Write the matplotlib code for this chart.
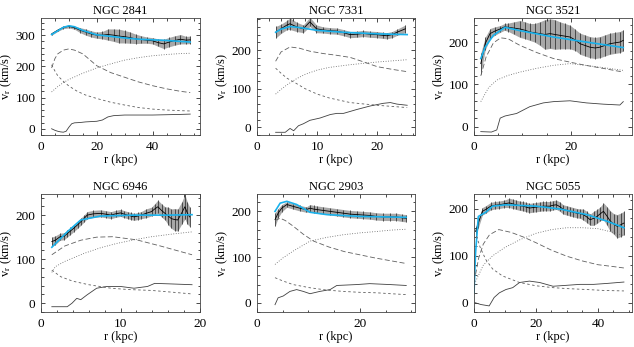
import matplotlib
matplotlib.use("Agg")
import matplotlib.pyplot as plt
from matplotlib.ticker import AutoMinorLocator, MultipleLocator
import numpy as np

plt.rcParams['font.family'] = ['Liberation Serif', 'DejaVu Serif']
plt.rcParams['mathtext.fontset'] = 'stix'
plt.rcParams['font.size'] = 9

# ---- NGC 2841 ----
n2841_r = [3.8, 6, 8, 10, 12, 14, 16, 18, 20, 22, 24, 26, 28, 30, 32, 34, 36, 38, 40, 42, 44, 46, 48, 50, 52, 53.5]
n2841_v = [304, 316, 325, 328, 324, 316, 310, 304, 300, 300, 302, 300, 297, 295, 292, 288, 286, 284, 282, 276, 272, 278, 283, 287, 284, 285]
n2841_e = [4, 4, 4, 5, 5, 8, 10, 10, 10, 12, 18, 20, 22, 20, 18, 15, 12, 10, 10, 12, 15, 15, 15, 15, 12, 12]
n2841_fit_r = [3.8, 6, 8, 10, 12, 15, 20, 25, 30, 35, 40, 45, 50, 53.5]
n2841_fit_v = [302, 314, 325, 330, 327, 315, 301, 296, 291, 287, 285, 283, 280, 278]
n2841_disk_r = [3.8, 5, 6, 8, 10, 12, 15, 20, 25, 30, 35, 40, 45, 50, 53.5]
n2841_disk_v = [195, 225, 240, 252, 256, 252, 240, 202, 180, 165, 150, 138, 128, 120, 116]
n2841_bulge_r = [3.8, 5, 6, 8, 10, 13, 16, 20, 25, 30, 35, 40, 45, 50, 53.5]
n2841_bulge_v = [205, 185, 170, 152, 137, 120, 108, 97, 85, 76, 68, 63, 60, 58, 57]
n2841_halo_r = [3.8, 6, 8, 10, 15, 20, 25, 30, 35, 40, 45, 50, 53.5]
n2841_halo_v = [118, 135, 148, 158, 178, 195, 208, 220, 228, 234, 238, 241, 242]
n2841_gas_r = [3.8, 5, 6, 7, 8, 9, 10, 11, 12, 14, 16, 18, 20, 22, 24, 26, 28, 30, 35, 40, 45, 50, 53.5]
n2841_gas_v = [0, -5, -8, -10, -11, -8, 5, 16, 19, 20, 22, 23, 24, 28, 38, 42, 43, 44, 44, 44, 45, 46, 47]

# ---- NGC 7331 ----
n7331_r = [3.1, 4, 5, 5.5, 6.6, 7.7, 8.8, 9.9, 11, 12.2, 13.3, 14.4, 15.5, 16.6, 17.7, 18.8, 19.9, 21, 21.6, 22.5, 23.3, 24.7]
n7331_v = [246, 255, 265, 268, 260, 255, 273, 255, 252, 250, 249, 245, 240, 241, 243, 241, 240, 238, 237, 240, 246, 255]
n7331_e = [15, 12, 12, 15, 12, 10, 12, 10, 8, 8, 8, 8, 8, 8, 8, 8, 8, 8, 8, 8, 8, 10]
n7331_fit_r = [3.1, 4, 5.5, 7.2, 10, 14.4, 20, 25]
n7331_fit_v = [246, 254, 261, 258, 251, 246, 242, 240]
n7331_disk_r = [3.1, 4, 5.5, 7, 8.8, 11, 13, 15.5, 18, 20, 22.5, 25]
n7331_disk_v = [171, 195, 208, 205, 197, 191, 187, 181, 168, 157, 150, 144]
n7331_bulge_r = [3.1, 4, 5, 6.6, 8, 10, 12, 15.5, 18, 20, 22.5, 25]
n7331_bulge_v = [153, 140, 127, 113, 100, 86, 76, 64, 60, 57, 54, 51]
n7331_halo_r = [3.1, 4, 5, 6.6, 8, 10, 12, 15.5, 18, 20, 22.5, 25]
n7331_halo_v = [86, 98, 110, 126, 137, 148, 155, 162, 166, 169, 172, 175]
n7331_gas_r = [3.1, 4.7, 5.5, 6.1, 6.9, 7.7, 8.8, 10.5, 12.2, 13.3, 14.4, 16.6, 18.8, 21, 22.2, 23.3, 25]
n7331_gas_v = [-13, -13, -3, -9, 4, 9, 18, 24, 33, 36, 36, 46, 55, 62, 64, 60, 57]

# ---- NGC 3521 ----
n3521_r = [1.4, 2.3, 3.3, 4.3, 5.4, 6.3, 7.1, 8.3, 9.5, 10.5, 11.5, 12.5, 13.6, 14.6, 15.7, 16.7, 17.7, 18.8, 19.8, 20.9, 21.9, 22.9, 23.9, 25, 26, 27, 28, 29, 30.1, 30.8]
n3521_v = [149, 196, 220, 226, 231, 236, 235, 233, 231, 228, 224, 222, 220, 218, 220, 218, 216, 214, 212, 205, 196, 192, 188, 186, 188, 192, 196, 198, 200, 204]
n3521_e = [25, 15, 12, 10, 8, 8, 10, 15, 20, 20, 20, 22, 28, 35, 35, 35, 32, 30, 28, 25, 25, 25, 25, 25, 25, 25, 25, 25, 25, 25]
n3521_fit_r = [1.4, 2.3, 4, 6.4, 9.5, 16.4, 23.2, 30.8]
n3521_fit_v = [161, 188, 216, 235, 227, 212, 200, 187]
n3521_disk_r = [1.4, 2.5, 4, 5.5, 7, 9.5, 13, 16.4, 20, 23, 27, 30.8]
n3521_disk_v = [120, 165, 198, 210, 208, 192, 175, 161, 152, 145, 137, 129]
n3521_halo_r = [1.4, 3, 4.7, 7, 9.5, 13, 16.4, 19.8, 23, 27, 30.8]
n3521_halo_v = [59, 92, 110, 121, 129, 138, 145, 149, 145, 139, 133]
n3521_gas_r = [1.4, 3.6, 4.7, 5.4, 6.4, 8.8, 11.5, 14.3, 16.4, 19.8, 23.2, 26.7, 30.1, 30.8]
n3521_gas_v = [-12, -13, -8, 20, 25, 31, 47, 56, 59, 61, 56, 53, 51, 59]

# ---- NGC 6946 ----
n6946_r = [1.36, 1.8, 2.4, 2.9, 3.3, 3.7, 4.1, 4.6, 5, 5.4, 5.8, 6.6, 7.5, 8.2, 8.8, 9.4, 10, 10.5, 10.9, 11.3, 11.7, 12.2, 12.6, 13.2, 13.9, 14.3, 14.7, 15.2, 15.6, 16, 16.4, 16.8, 17.2, 17.7, 18.1, 18.4, 18.7]
n6946_v = [140, 143, 151, 152, 158, 164, 170, 178, 185, 192, 200, 203, 204, 202, 200, 203, 205, 202, 200, 198, 196, 198, 200, 204, 208, 214, 219, 210, 204, 198, 192, 190, 189, 205, 219, 205, 196]
n6946_e = [10, 10, 8, 8, 8, 8, 8, 8, 8, 8, 8, 8, 8, 8, 8, 8, 8, 8, 8, 8, 8, 8, 8, 10, 10, 12, 15, 15, 15, 20, 22, 25, 25, 25, 28, 25, 22]
n6946_fit_r = [1.36, 3.3, 5, 7.5, 11.7, 16, 19]
n6946_fit_v = [127, 162, 189, 198, 200, 200, 201]
n6946_disk_r = [1.36, 3, 5, 7, 9, 12, 15, 17, 19]
n6946_disk_v = [110, 130, 143, 150, 151, 144, 130, 120, 110]
n6946_bulge_r = [1.36, 2.5, 4, 6, 8.8, 11, 13.9, 16.5, 19]
n6946_bulge_v = [75, 60, 50, 42, 34, 31, 29, 25, 21]
n6946_halo_r = [1.36, 1.8, 3, 5.4, 7.5, 9.6, 12, 13.9, 16.5, 19]
n6946_halo_v = [70, 83, 95, 113, 126, 136, 145, 151, 157, 162]
n6946_gas_r = [1.36, 3.3, 3.9, 4.5, 5, 5.8, 7, 8.3, 10, 11.7, 13.4, 14.3, 16, 19]
n6946_gas_v = [-8, -8, 0, 11, 8, 19, 34, 38, 38, 34, 38, 45, 44, 42]

# ---- NGC 2903 ----
n2903_r = [3.5, 4.1, 4.8, 5.8, 7, 8.3, 9.6, 10.3, 11, 11.6, 12.9, 14.2, 15.5, 16.8, 18.1, 19.4, 20.6, 21.9, 23.2, 24.5, 25.8, 27.1, 28.1, 29]
n2903_v = [182, 196, 207, 215, 211, 207, 204, 207, 205, 204, 202, 200, 198, 196, 194, 193, 192, 191, 189, 188, 188, 188, 186, 185]
n2903_e = [15, 10, 8, 6, 6, 6, 6, 8, 8, 8, 8, 8, 8, 8, 8, 8, 8, 8, 8, 8, 8, 8, 8, 8]
n2903_fit_r = [3.5, 4.5, 5.8, 7.7, 10.3, 13.5, 20, 29]
n2903_fit_v = [200, 218, 222, 215, 198, 193, 189, 187]
n2903_disk_r = [3.5, 4.5, 5.5, 7, 9, 11, 14, 17, 20, 23, 26, 29]
n2903_disk_v = [180, 185, 180, 168, 150, 135, 122, 112, 105, 98, 92, 86]
n2903_bulge_r = [3.5, 5, 7, 10.3, 13.5, 16.8, 20, 23.2, 26, 29]
n2903_bulge_v = [55, 48, 40, 33, 28, 25, 23, 22, 20, 18]
n2903_halo_r = [3.5, 5, 7, 10.3, 13.5, 16.8, 20, 23.2, 26, 29]
n2903_halo_v = [84, 98, 113, 135, 143, 149, 153, 156, 159, 161]
n2903_gas_r = [3.5, 4.1, 5.1, 6.4, 7.7, 9, 10.3, 12.2, 14.2, 15.5, 19.4, 21.9, 25.8, 29]
n2903_gas_v = [-4, 11, 15, 25, 29, 25, 20, 25, 29, 38, 40, 42, 40, 38]

# ---- NGC 5055 ----
n5055_r = [0.5, 1.4, 2.7, 3.8, 5.4, 6.8, 8.2, 9.8, 11.4, 12.5, 13.6, 14.7, 15.8, 16.9, 17.9, 19, 20.1, 21.2, 22.3, 23.4, 24.5, 25.5, 26.6, 27.7, 28.8, 29.9, 31, 32.1, 33.2, 34.3, 35.3, 36.4, 37.5, 38.6, 39.7, 40.8, 41.8, 42.9, 44, 45.1, 46.2, 47.3, 48.4]
n5055_v = [152, 170, 195, 199, 206, 208, 209, 211, 213, 211, 209, 207, 206, 204, 202, 203, 204, 205, 206, 206, 206, 208, 209, 205, 199, 197, 195, 193, 191, 190, 188, 183, 177, 180, 184, 190, 195, 185, 174, 168, 163, 166, 170]
n5055_e = [10, 10, 8, 8, 8, 8, 8, 8, 10, 10, 10, 10, 10, 10, 10, 10, 10, 10, 10, 10, 10, 10, 10, 10, 10, 10, 10, 10, 10, 10, 12, 12, 12, 15, 15, 15, 18, 20, 22, 22, 25, 25, 25]
n5055_fit_r = [0, 0.5, 1.4, 3.8, 6, 10.3, 20.1, 27.7, 36.4, 42.9, 48.4]
n5055_fit_v = [21, 106, 184, 193, 206, 209, 206, 200, 188, 174, 160]
n5055_disk_r = [0.5, 1.5, 3, 5, 8, 12, 16, 20, 25, 30, 35, 40, 45, 48.4]
n5055_disk_v = [60, 95, 125, 145, 156, 150, 140, 128, 112, 99, 89, 81, 77, 74]
n5055_bulge_r = [0.8, 2, 3.8, 6, 9.2, 14.7, 20, 25.5, 30, 36.4, 42, 48.4]
n5055_bulge_v = [142, 118, 92, 72, 57, 43, 36, 32, 30, 28, 26, 25]
n5055_halo_r = [0.5, 3, 6, 10, 15, 20, 25, 30, 35, 40, 45, 48.4]
n5055_halo_v = [45, 80, 100, 118, 135, 148, 156, 160, 160, 158, 150, 143]
n5055_gas_r = [0.3, 2.2, 4.9, 6.5, 8.2, 10.3, 12.5, 14.7, 17.9, 21.2, 25.5, 29.9, 34.2, 38.6, 42.9, 48.4]
n5055_gas_v = [0, -4, -7, 11, 21, 28, 32, 43, 46, 43, 35, 37, 39, 39, 41, 44]

galaxies = [
    ("NGC 2841", n2841_r, n2841_v, n2841_e, n2841_fit_r, n2841_fit_v,
     (n2841_disk_r, n2841_disk_v), (n2841_bulge_r, n2841_bulge_v),
     (n2841_halo_r, n2841_halo_v), (n2841_gas_r, n2841_gas_v)),
    ("NGC 7331", n7331_r, n7331_v, n7331_e, n7331_fit_r, n7331_fit_v,
     (n7331_disk_r, n7331_disk_v), (n7331_bulge_r, n7331_bulge_v),
     (n7331_halo_r, n7331_halo_v), (n7331_gas_r, n7331_gas_v)),
    ("NGC 3521", n3521_r, n3521_v, n3521_e, n3521_fit_r, n3521_fit_v,
     (n3521_disk_r, n3521_disk_v), None,
     (n3521_halo_r, n3521_halo_v), (n3521_gas_r, n3521_gas_v)),
    ("NGC 6946", n6946_r, n6946_v, n6946_e, n6946_fit_r, n6946_fit_v,
     (n6946_disk_r, n6946_disk_v), (n6946_bulge_r, n6946_bulge_v),
     (n6946_halo_r, n6946_halo_v), (n6946_gas_r, n6946_gas_v)),
    ("NGC 2903", n2903_r, n2903_v, n2903_e, n2903_fit_r, n2903_fit_v,
     (n2903_disk_r, n2903_disk_v), (n2903_bulge_r, n2903_bulge_v),
     (n2903_halo_r, n2903_halo_v), (n2903_gas_r, n2903_gas_v)),
    ("NGC 5055", n5055_r, n5055_v, n5055_e, n5055_fit_r, n5055_fit_v,
     (n5055_disk_r, n5055_disk_v), (n5055_bulge_r, n5055_bulge_v),
     (n5055_halo_r, n5055_halo_v), (n5055_gas_r, n5055_gas_v)),
]

xlims = [57, 26.3, 32.6, 20, 30.7, 51]
xmajor = [20, 10, 20, 10, 20, 20]
ytops = [355, 283, 257, 248, 238, 232]

W, H = 634, 347
fig = plt.figure(figsize=(W / 100, H / 100), dpi=100)
lefts = [41, 257, 474]
widths = [159, 158, 158]
rows = [(18, 135), (194, 312)]

for i, g in enumerate(galaxies):
    name, r, v, e, fr, fv, disk, bulge, halo, gas = g
    row, col = divmod(i, 3)
    top, bot = rows[row]
    ax = fig.add_axes([lefts[col] / W, 1 - bot / H, widths[col] / W, (bot - top) / H])

    r = np.array(r); v = np.array(v); e = np.array(e)
    ax.fill_between(r, v - e, v + e, color='#a8a8a8', lw=0)
    ax.errorbar(r, v, yerr=e, fmt='none', ecolor='#3a3a3a', elinewidth=0.6, capsize=0)
    ax.plot(r, v, color='black', lw=0.6)
    ax.plot(fr, fv, color='#1ab2ec', lw=1.2)
    ax.plot(*disk, color='#606060', lw=0.6, ls=(0, (6, 3)))
    if bulge is not None:
        ax.plot(*bulge, color='#606060', lw=0.6, ls=(0, (3, 3)))
    ax.plot(*halo, color='#606060', lw=0.6, ls=(0, (1, 2)))
    ax.plot(*gas, color='#404040', lw=0.6)

    ax.set_xlim(0, xlims[i])
    ax.set_ylim(-20, ytops[i])
    ax.xaxis.set_major_locator(MultipleLocator(xmajor[i]))
    ax.yaxis.set_major_locator(MultipleLocator(100))
    ax.xaxis.set_minor_locator(AutoMinorLocator())
    ax.yaxis.set_minor_locator(AutoMinorLocator())
    ax.tick_params(which='both', direction='in', top=True, right=True, width=0.5, labelsize=9.5, pad=4)
    ax.tick_params(which='major', length=3)
    ax.tick_params(which='minor', length=1.8)
    for s in ax.spines.values():
        s.set_linewidth(0.6)
        s.set_color('#444444')
    ax.set_title(name, fontsize=9, pad=3)
    ax.set_xlabel('r (kpc)', fontsize=9, labelpad=1)
    ax.set_ylabel(r'v$_\mathrm{r}$ (km/s)', fontsize=9, labelpad=1)

fig.savefig('out.png', dpi=100)
